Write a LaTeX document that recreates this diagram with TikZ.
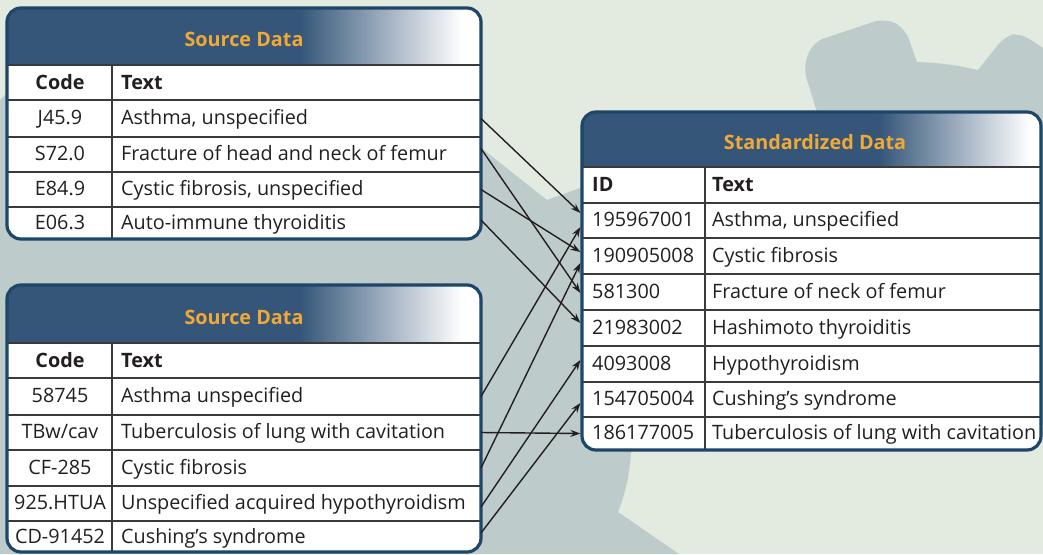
\documentclass[tikz,border=0pt]{standalone}
\usepackage{fontspec}
\setmainfont{Open Sans}
\usetikzlibrary{arrows.meta}
\definecolor{bgpale}{HTML}{E3EBE0}
\definecolor{gearblue}{HTML}{BDCBCA}
\definecolor{hdrblue}{HTML}{355679}
\definecolor{rimblue}{HTML}{1D4668}
\definecolor{titleorange}{HTML}{F0A937}
\definecolor{gridgray}{HTML}{3A3A3A}
\definecolor{inkdark}{HTML}{231F20}
\begin{document}
\begin{tikzpicture}[x=1pt,y=-1pt,
    tablebox/.style={inner sep=0pt, outer sep=0pt},
    bodycell/.style={inner sep=0pt, text height=16pt, text depth=4pt, text=inkdark, font=\fontsize{19.8}{22}\selectfont},
    headcell/.style={bodycell, font=\fontsize{19.8}{22}\selectfont\bfseries},
    headtitle/.style={inner sep=0pt, text height=16pt, text depth=4pt, text=titleorange, font=\fontsize{19.8}{22}\selectfont\bfseries},
    gridline/.style={line width=1.3pt, draw=gridgray},
    rim/.style={line width=3.2pt, rounded corners=14pt, draw=rimblue},
    maparrow/.style={-{Stealth[length=10pt,width=7pt]}, line width=1.4pt, draw=inkdark}]
        % background with the gear
        \fill [bgpale] (0,0) rectangle (1043,554);
        \useasboundingbox (0,0) rectangle (1043,554);
        \fill [gearblue] (0,554) -- (0,100) -- (40,60) -- (250,20) -- (480,147) -- (547,200) -- (580,188) -- (700,140) -- (817,112)
              [rounded corners=12pt] -- (803,67) -- (813,42) -- (885,18) -- (905,28) [sharp corners] -- (917,62) to[bend left=5] (978,70)
              [rounded corners=10pt] -- (1005,36) -- (1020,33) [sharp corners] -- (1043,48) -- (1043,425) -- (645,425) -- (631,453)
              to[bend left=8] (618,512) -- (679,554) -- cycle;
        % first source table
        \node[tablebox, minimum width=474pt, minimum height=231pt] (src1) at (244,123.5) {};
        \begin{scope}
            \clip [rounded corners=14pt] (src1.north west) rectangle (src1.south east);
            \fill [white] (src1.north west) rectangle (src1.south east);
            \fill [hdrblue] (7,8) rectangle (300,65);
            \shade [left color=hdrblue, right color=white] (299.5,8) rectangle (462,65);
            \fill [white] (461.5,8) rectangle (481,65);
        \end{scope}
        \foreach \y in {65,100,137,172,207} \draw [gridline] (7,\y) -- (481,\y);
        \draw [gridline] (112,65) -- (112,239);
        \draw [rim] (src1.north west) rectangle (src1.south east);
        \node[headtitle] (src1title) at (244,40) {Source Data};
        \node[headcell] (src1code) at (60,83) {Code};
        \node[headcell, anchor=west] (src1text) at (121,83) {Text};
        \foreach \code/\txt/\y [count=\i] in {J45.9/{Asthma, unspecified}/118.5, S72.0/{Fracture of head and neck of femur}/154.5,
              E84.9/{Cystic fibrosis, unspecified}/189.5, E06.3/{Auto-immune thyroiditis}/223} {
            \node[bodycell] (src1c\i) at (60,\y) {\code};
            \node[bodycell, anchor=west] (src1t\i) at (121,\y) {\txt};
        }
        % second source table
        \node[tablebox, minimum width=474pt, minimum height=267pt] (src2) at (244,418.5) {};
        \begin{scope}
            \clip [rounded corners=14pt] (src2.north west) rectangle (src2.south east);
            \fill [white] (src2.north west) rectangle (src2.south east);
            \fill [hdrblue] (7,285) rectangle (300,343);
            \shade [left color=hdrblue, right color=white] (299.5,285) rectangle (462,343);
            \fill [white] (461.5,285) rectangle (481,343);
        \end{scope}
        \foreach \y in {343,378,415,450,486,521} \draw [gridline] (7,\y) -- (481,\y);
        \draw [gridline] (112,343) -- (112,552);
        \draw [rim] (src2.north west) rectangle (src2.south east);
        \node[headtitle] (src2title) at (244,318) {Source Data};
        \node[headcell] (src2code) at (60,361) {Code};
        \node[headcell, anchor=west] (src2text) at (121,361) {Text};
        \foreach \code/\txt/\y [count=\i] in {{58745}/{Asthma unspecified}/396.5, {TBw/cav}/{Tuberculosis of lung with cavitation}/432.5,
              {CF-285}/{Cystic fibrosis}/468, {925.HTUA}/{Unspecified acquired hypothyroidism}/503.5, {CD-91452}/{Cushing’s syndrome}/537} {
            \node[bodycell] (src2c\i) at (60,\y) {\code};
            \node[bodycell, anchor=west] (src2t\i) at (121,\y) {\txt};
        }
        % standardized table
        \node[tablebox, minimum width=459pt, minimum height=338pt] (std) at (811.5,281) {};
        \begin{scope}
            \clip [rounded corners=14pt] (std.north west) rectangle (std.south east);
            \fill [white] (std.north west) rectangle (std.south east);
            \fill [hdrblue] (582,112) rectangle (880,167);
            \shade [left color=hdrblue, right color=white] (879.5,112) rectangle (1030,167);
            \fill [white] (1029.5,112) rectangle (1041,167);
        \end{scope}
        \foreach \y in {167,203,238,274,310,346,382,417} \draw [gridline] (582,\y) -- (1041,\y);
        \draw [gridline] (705,167) -- (705,450);
        \draw [rim] (std.north west) rectangle (std.south east);
        \node[headtitle] (stdtitle) at (815,143) {Standardized Data};
        \node[headcell, anchor=west] (stdid) at (592,185) {ID};
        \node[headcell, anchor=west] (stdtext) at (712,185) {Text};
        \foreach \code/\txt/\y [count=\i] in {195967001/{Asthma, unspecified}/220.5, 190905008/{Cystic fibrosis}/256,
              581300/{Fracture of neck of femur}/292, 21983002/{Hashimoto thyroiditis}/328, 4093008/{Hypothyroidism}/364,
              154705004/{Cushing’s syndrome}/399.5, 186177005/{Tuberculosis of lung with cavitation}/433.5} {
            \node[bodycell, anchor=west] (stdid\i) at (592,\y) {\code};
            \node[bodycell, anchor=west] (stdt\i) at (712,\y) {\txt};
        }
        % mapping arrows
        \foreach \tab/\from/\fs/\to/\ts in {src1/src1c1/0/stdid1/7.5, src1/src1c2/6/stdid3/-1, src1/src1c3/0/stdid2/4,
              src1/src1c4/3/stdid4/5, src2/src2c1/0/stdid1/-6.5, src2/src2c2/0/stdid7/0, src2/src2c3/0/stdid2/-7,
              src2/src2c4/-3.5/stdid5/4, src2/src2c5/4/stdid6/-3.5}
            \draw [maparrow] ([yshift=\fs pt]\tab.east |- \from) -- ([yshift=\ts pt, xshift=-1.6pt]std.west |- \to);
\end{tikzpicture}
\end{document}
